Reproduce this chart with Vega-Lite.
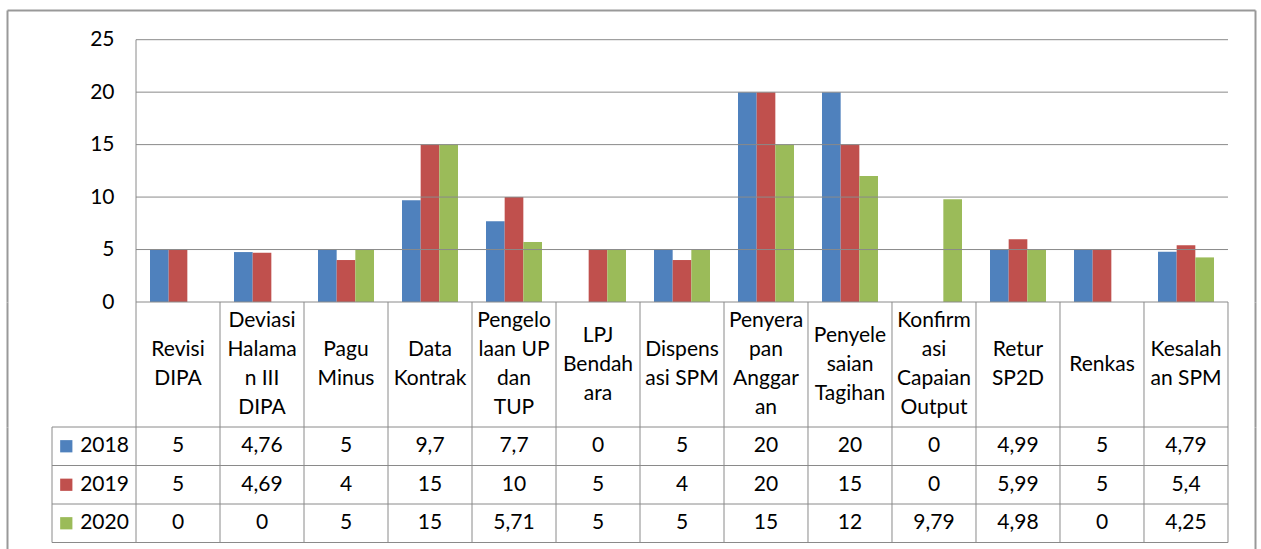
{
  "$schema": "https://vega.github.io/schema/vega-lite/v6.json",
  "padding": {"left": 7, "top": 10, "right": 6, "bottom": 0},
  "spacing": 0,
  "bounds": "flush",
  "datasets": {
    "vals": [
      {"cat": "Revisi DIPA", "year": "2018", "value": 5},
      {"cat": "Revisi DIPA", "year": "2019", "value": 5},
      {"cat": "Revisi DIPA", "year": "2020", "value": 0},
      {"cat": "Deviasi Halaman III DIPA", "year": "2018", "value": 4.76},
      {"cat": "Deviasi Halaman III DIPA", "year": "2019", "value": 4.69},
      {"cat": "Deviasi Halaman III DIPA", "year": "2020", "value": 0},
      {"cat": "Pagu Minus", "year": "2018", "value": 5},
      {"cat": "Pagu Minus", "year": "2019", "value": 4},
      {"cat": "Pagu Minus", "year": "2020", "value": 5},
      {"cat": "Data Kontrak", "year": "2018", "value": 9.7},
      {"cat": "Data Kontrak", "year": "2019", "value": 15},
      {"cat": "Data Kontrak", "year": "2020", "value": 15},
      {"cat": "Pengelolaan UP dan TUP", "year": "2018", "value": 7.7},
      {"cat": "Pengelolaan UP dan TUP", "year": "2019", "value": 10},
      {"cat": "Pengelolaan UP dan TUP", "year": "2020", "value": 5.71},
      {"cat": "LPJ Bendahara", "year": "2018", "value": 0},
      {"cat": "LPJ Bendahara", "year": "2019", "value": 5},
      {"cat": "LPJ Bendahara", "year": "2020", "value": 5},
      {"cat": "Dispensasi SPM", "year": "2018", "value": 5},
      {"cat": "Dispensasi SPM", "year": "2019", "value": 4},
      {"cat": "Dispensasi SPM", "year": "2020", "value": 5},
      {"cat": "Penyerapan Anggaran", "year": "2018", "value": 20},
      {"cat": "Penyerapan Anggaran", "year": "2019", "value": 20},
      {"cat": "Penyerapan Anggaran", "year": "2020", "value": 15},
      {"cat": "Penyelesaian Tagihan", "year": "2018", "value": 20},
      {"cat": "Penyelesaian Tagihan", "year": "2019", "value": 15},
      {"cat": "Penyelesaian Tagihan", "year": "2020", "value": 12},
      {"cat": "Konfirmasi Capaian Output", "year": "2018", "value": 0},
      {"cat": "Konfirmasi Capaian Output", "year": "2019", "value": 0},
      {"cat": "Konfirmasi Capaian Output", "year": "2020", "value": 9.79},
      {"cat": "Retur SP2D", "year": "2018", "value": 4.99},
      {"cat": "Retur SP2D", "year": "2019", "value": 5.99},
      {"cat": "Retur SP2D", "year": "2020", "value": 4.98},
      {"cat": "Renkas", "year": "2018", "value": 5},
      {"cat": "Renkas", "year": "2019", "value": 5},
      {"cat": "Renkas", "year": "2020", "value": 0},
      {"cat": "Kesalahan SPM", "year": "2018", "value": 4.79},
      {"cat": "Kesalahan SPM", "year": "2019", "value": 5.4},
      {"cat": "Kesalahan SPM", "year": "2020", "value": 4.25}
    ],
    "cats": [
      {"cat": "Revisi DIPA", "head": "Revisi|DIPA"},
      {"cat": "Deviasi Halaman III DIPA", "head": "Deviasi|Halama|n III|DIPA"},
      {"cat": "Pagu Minus", "head": "Pagu|Minus"},
      {"cat": "Data Kontrak", "head": "Data|Kontrak"},
      {"cat": "Pengelolaan UP dan TUP", "head": "Pengelo|laan UP|dan|TUP"},
      {"cat": "LPJ Bendahara", "head": "LPJ|Bendah|ara"},
      {"cat": "Dispensasi SPM", "head": "Dispens|asi SPM"},
      {"cat": "Penyerapan Anggaran", "head": "Penyera|pan|Anggar|an"},
      {"cat": "Penyelesaian Tagihan", "head": "Penyele|saian|Tagihan"},
      {"cat": "Konfirmasi Capaian Output", "head": "Konfirm|asi|Capaian|Output"},
      {"cat": "Retur SP2D", "head": "Retur|SP2D"},
      {"cat": "Renkas", "head": "Renkas"},
      {"cat": "Kesalahan SPM", "head": "Kesalah|an SPM"}
    ],
    "years": [{"year": "2018"}, {"year": "2019"}, {"year": "2020"}],
    "grid": [{"g": 0}, {"g": 5}, {"g": 10}, {"g": 15}, {"g": 20}, {"g": 25}],
    "one": [{"k": 1}]
  },
  "vconcat": [
    {
      "width": 1248,
      "height": 292,
      "layer": [
        {
          "data": {"name": "vals"},
          "mark": {"type": "bar"},
          "encoding": {
            "x": {"field": "cat", "type": "nominal",
              "scale": {"type": "band", "domain": ["legend", "Revisi DIPA", "Deviasi Halaman III DIPA", "Pagu Minus", "Data Kontrak", "Pengelolaan UP dan TUP", "LPJ Bendahara", "Dispensasi SPM", "Penyerapan Anggaran", "Penyelesaian Tagihan", "Konfirmasi Capaian Output", "Retur SP2D", "Renkas", "Kesalahan SPM"], "paddingInner": 0, "paddingOuter": 0.4286, "align": 0.625},
              "axis": {"orient": "top", "domain": true, "domainColor": "#999999", "domainWidth": 2, "ticks": false, "labels": false, "grid": false, "title": null}},
            "xOffset": {"field": "year", "type": "nominal", "scale": {"paddingInner": 0, "paddingOuter": 0.75}},
            "y": {"field": "value", "type": "quantitative",
              "scale": {"domain": [0, 27.83], "nice": false, "zero": true},
              "axis": {"orient": "left", "domain": true, "domainColor": "#999999", "domainWidth": 2, "ticks": false, "grid": false, "labels": true, "labelPadding": -107, "labelFont": "Lato", "labelFontSize": 21, "labelColor": "#000000", "values": [0, 5, 10, 15, 20, 25], "title": null}},
            "color": {"field": "year", "type": "nominal", "scale": {"domain": ["2018", "2019", "2020"], "range": ["#4F81BD", "#C0504D", "#9BBB59"]}, "legend": null}
          }
        },
        {
          "data": {"name": "grid"},
          "mark": {"type": "rule", "color": "#8a8a8a", "strokeWidth": 1},
          "encoding": {
            "x": {"datum": "Revisi DIPA", "type": "nominal", "bandPosition": 0,
              "scale": {"type": "band", "domain": ["legend", "Revisi DIPA", "Deviasi Halaman III DIPA", "Pagu Minus", "Data Kontrak", "Pengelolaan UP dan TUP", "LPJ Bendahara", "Dispensasi SPM", "Penyerapan Anggaran", "Penyelesaian Tagihan", "Konfirmasi Capaian Output", "Retur SP2D", "Renkas", "Kesalahan SPM"], "paddingInner": 0, "paddingOuter": 0.4286, "align": 0.625},
              "axis": {"orient": "top", "domain": true, "domainColor": "#999999", "domainWidth": 2, "ticks": false, "labels": false, "grid": false, "title": null}},
            "x2": {"datum": "Kesalahan SPM", "bandPosition": 1},
            "y": {"field": "g", "type": "quantitative",
              "scale": {"domain": [0, 27.83], "nice": false, "zero": true},
              "axis": {"orient": "right", "domain": true, "domainColor": "#999999", "domainWidth": 2, "ticks": false, "labels": false, "grid": false, "title": null}}
          }
        },
        {
          "data": {"name": "one"},
          "mark": {"type": "rule", "color": "#8a8a8a", "strokeWidth": 1},
          "encoding": {
            "x": {"datum": "Revisi DIPA", "type": "nominal", "bandPosition": 0,
              "scale": {"type": "band", "domain": ["legend", "Revisi DIPA", "Deviasi Halaman III DIPA", "Pagu Minus", "Data Kontrak", "Pengelolaan UP dan TUP", "LPJ Bendahara", "Dispensasi SPM", "Penyerapan Anggaran", "Penyelesaian Tagihan", "Konfirmasi Capaian Output", "Retur SP2D", "Renkas", "Kesalahan SPM"], "paddingInner": 0, "paddingOuter": 0.4286, "align": 0.625},
              "axis": {"orient": "top", "domain": true, "domainColor": "#999999", "domainWidth": 2, "ticks": false, "labels": false, "grid": false, "title": null}},
            "y": {"datum": 0, "type": "quantitative", "scale": {"domain": [0, 27.83], "nice": false, "zero": true}, "axis": null},
            "y2": {"datum": 25}
          }
        }
      ],
      "resolve": {"axis": {"y": "independent"}}
    },
    {
      "width": 1248,
      "height": 125,
      "layer": [
        {
          "data": {"name": "cats"},
          "transform": [{"filter": "length(split(datum.head, '|')) == 1"}],
          "mark": {"type": "text", "font": "Lato", "fontSize": 21, "lineBreak": "|", "lineHeight": 29, "baseline": "middle", "align": "center", "color": "#000000", "dy": 0},
          "encoding": {
            "x": {"field": "cat", "type": "nominal",
              "scale": {"type": "band", "domain": ["legend", "Revisi DIPA", "Deviasi Halaman III DIPA", "Pagu Minus", "Data Kontrak", "Pengelolaan UP dan TUP", "LPJ Bendahara", "Dispensasi SPM", "Penyerapan Anggaran", "Penyelesaian Tagihan", "Konfirmasi Capaian Output", "Retur SP2D", "Renkas", "Kesalahan SPM"], "paddingInner": 0, "paddingOuter": 0.4286, "align": 0.625},
              "axis": null},
            "y": {"datum": "h", "type": "nominal",
              "axis": {"orient": "left", "domain": true, "domainColor": "#999999", "domainWidth": 2, "ticks": false, "labels": false, "grid": false, "title": null}},
            "text": {"field": "head", "type": "nominal"}
          }
        },
        {
          "data": {"name": "cats"},
          "transform": [{"filter": "length(split(datum.head, '|')) == 2"}],
          "mark": {"type": "text", "font": "Lato", "fontSize": 21, "lineBreak": "|", "lineHeight": 29, "baseline": "middle", "align": "center", "color": "#000000", "dy": -14.5},
          "encoding": {
            "x": {"field": "cat", "type": "nominal",
              "scale": {"type": "band", "domain": ["legend", "Revisi DIPA", "Deviasi Halaman III DIPA", "Pagu Minus", "Data Kontrak", "Pengelolaan UP dan TUP", "LPJ Bendahara", "Dispensasi SPM", "Penyerapan Anggaran", "Penyelesaian Tagihan", "Konfirmasi Capaian Output", "Retur SP2D", "Renkas", "Kesalahan SPM"], "paddingInner": 0, "paddingOuter": 0.4286, "align": 0.625},
              "axis": null},
            "y": {"datum": "h", "type": "nominal", "axis": null},
            "text": {"field": "head", "type": "nominal"}
          }
        },
        {
          "data": {"name": "cats"},
          "transform": [{"filter": "length(split(datum.head, '|')) == 3"}],
          "mark": {"type": "text", "font": "Lato", "fontSize": 21, "lineBreak": "|", "lineHeight": 29, "baseline": "middle", "align": "center", "color": "#000000", "dy": -29},
          "encoding": {
            "x": {"field": "cat", "type": "nominal",
              "scale": {"type": "band", "domain": ["legend", "Revisi DIPA", "Deviasi Halaman III DIPA", "Pagu Minus", "Data Kontrak", "Pengelolaan UP dan TUP", "LPJ Bendahara", "Dispensasi SPM", "Penyerapan Anggaran", "Penyelesaian Tagihan", "Konfirmasi Capaian Output", "Retur SP2D", "Renkas", "Kesalahan SPM"], "paddingInner": 0, "paddingOuter": 0.4286, "align": 0.625},
              "axis": null},
            "y": {"datum": "h", "type": "nominal", "axis": null},
            "text": {"field": "head", "type": "nominal"}
          }
        },
        {
          "data": {"name": "cats"},
          "transform": [{"filter": "length(split(datum.head, '|')) == 4"}],
          "mark": {"type": "text", "font": "Lato", "fontSize": 21, "lineBreak": "|", "lineHeight": 29, "baseline": "middle", "align": "center", "color": "#000000", "dy": -43.5},
          "encoding": {
            "x": {"field": "cat", "type": "nominal",
              "scale": {"type": "band", "domain": ["legend", "Revisi DIPA", "Deviasi Halaman III DIPA", "Pagu Minus", "Data Kontrak", "Pengelolaan UP dan TUP", "LPJ Bendahara", "Dispensasi SPM", "Penyerapan Anggaran", "Penyelesaian Tagihan", "Konfirmasi Capaian Output", "Retur SP2D", "Renkas", "Kesalahan SPM"], "paddingInner": 0, "paddingOuter": 0.4286, "align": 0.625},
              "axis": null},
            "y": {"datum": "h", "type": "nominal", "axis": null},
            "text": {"field": "head", "type": "nominal"}
          }
        },
        {
          "data": {"name": "cats"},
          "mark": {"type": "rule", "color": "#8a8a8a", "strokeWidth": 1},
          "encoding": {
            "x": {"field": "cat", "type": "nominal", "bandPosition": 0,
              "scale": {"type": "band", "domain": ["legend", "Revisi DIPA", "Deviasi Halaman III DIPA", "Pagu Minus", "Data Kontrak", "Pengelolaan UP dan TUP", "LPJ Bendahara", "Dispensasi SPM", "Penyerapan Anggaran", "Penyelesaian Tagihan", "Konfirmasi Capaian Output", "Retur SP2D", "Renkas", "Kesalahan SPM"], "paddingInner": 0, "paddingOuter": 0.4286, "align": 0.625},
              "axis": null}
          }
        },
        {
          "data": {"name": "one"},
          "mark": {"type": "rule", "color": "#8a8a8a", "strokeWidth": 1},
          "encoding": {
            "x": {"datum": "Kesalahan SPM", "type": "nominal", "bandPosition": 1,
              "scale": {"type": "band", "domain": ["legend", "Revisi DIPA", "Deviasi Halaman III DIPA", "Pagu Minus", "Data Kontrak", "Pengelolaan UP dan TUP", "LPJ Bendahara", "Dispensasi SPM", "Penyerapan Anggaran", "Penyelesaian Tagihan", "Konfirmasi Capaian Output", "Retur SP2D", "Renkas", "Kesalahan SPM"], "paddingInner": 0, "paddingOuter": 0.4286, "align": 0.625},
              "axis": null}
          }
        },
        {
          "data": {"name": "one"},
          "mark": {"type": "text", "text": ""},
          "encoding": {
            "y": {"datum": "h", "type": "nominal",
              "axis": {"orient": "right", "domain": true, "domainColor": "#999999", "domainWidth": 2, "ticks": false, "labels": false, "grid": false, "title": null}}
          }
        }
      ],
      "resolve": {"axis": {"y": "independent"}}
    },
    {
      "width": 1248,
      "height": 122,
      "layer": [
        {
          "data": {"name": "vals"},
          "mark": {"type": "text", "font": "Lato", "fontSize": 21, "baseline": "middle", "align": "center", "color": "#000000"},
          "encoding": {
            "x": {"field": "cat", "type": "nominal",
              "scale": {"type": "band", "domain": ["legend", "Revisi DIPA", "Deviasi Halaman III DIPA", "Pagu Minus", "Data Kontrak", "Pengelolaan UP dan TUP", "LPJ Bendahara", "Dispensasi SPM", "Penyerapan Anggaran", "Penyelesaian Tagihan", "Konfirmasi Capaian Output", "Retur SP2D", "Renkas", "Kesalahan SPM"], "paddingInner": 0, "paddingOuter": 0.4286, "align": 0.625},
              "axis": null},
            "y": {"field": "year", "type": "nominal",
              "scale": {"type": "band", "domain": ["2018", "2019", "2020"], "paddingInner": 0, "paddingOuter": 0.0844, "align": 0},
              "axis": {"orient": "left", "domain": true, "domainColor": "#999999", "domainWidth": 2, "ticks": false, "labels": false, "grid": false, "title": null}},
            "text": {"field": "value", "type": "quantitative", "format": "~g"}
          }
        },
        {
          "data": {"name": "years"},
          "mark": {"type": "text", "font": "Lato", "fontSize": 21, "baseline": "middle", "align": "left", "color": "#000000"},
          "encoding": {
            "x": {"datum": "legend", "type": "nominal", "bandPosition": 0.335,
              "scale": {"type": "band", "domain": ["legend", "Revisi DIPA", "Deviasi Halaman III DIPA", "Pagu Minus", "Data Kontrak", "Pengelolaan UP dan TUP", "LPJ Bendahara", "Dispensasi SPM", "Penyerapan Anggaran", "Penyelesaian Tagihan", "Konfirmasi Capaian Output", "Retur SP2D", "Renkas", "Kesalahan SPM"], "paddingInner": 0, "paddingOuter": 0.4286, "align": 0.625},
              "axis": null},
            "y": {"field": "year", "type": "nominal",
              "scale": {"type": "band", "domain": ["2018", "2019", "2020"], "paddingInner": 0, "paddingOuter": 0.0844, "align": 0},
              "axis": null},
            "text": {"field": "year", "type": "nominal"}
          }
        },
        {
          "data": {"name": "years"},
          "mark": {"type": "square", "size": 150, "filled": true, "opacity": 1},
          "encoding": {
            "x": {"datum": "legend", "type": "nominal", "bandPosition": 0.17,
              "scale": {"type": "band", "domain": ["legend", "Revisi DIPA", "Deviasi Halaman III DIPA", "Pagu Minus", "Data Kontrak", "Pengelolaan UP dan TUP", "LPJ Bendahara", "Dispensasi SPM", "Penyerapan Anggaran", "Penyelesaian Tagihan", "Konfirmasi Capaian Output", "Retur SP2D", "Renkas", "Kesalahan SPM"], "paddingInner": 0, "paddingOuter": 0.4286, "align": 0.625},
              "axis": null},
            "y": {"field": "year", "type": "nominal",
              "scale": {"type": "band", "domain": ["2018", "2019", "2020"], "paddingInner": 0, "paddingOuter": 0.0844, "align": 0},
              "axis": null},
            "color": {"field": "year", "type": "nominal", "scale": {"domain": ["2018", "2019", "2020"], "range": ["#4F81BD", "#C0504D", "#9BBB59"]}, "legend": null}
          }
        },
        {
          "data": {"name": "years"},
          "mark": {"type": "rule", "color": "#8a8a8a", "strokeWidth": 1},
          "encoding": {
            "x": {"datum": "legend", "type": "nominal", "bandPosition": 0,
              "scale": {"type": "band", "domain": ["legend", "Revisi DIPA", "Deviasi Halaman III DIPA", "Pagu Minus", "Data Kontrak", "Pengelolaan UP dan TUP", "LPJ Bendahara", "Dispensasi SPM", "Penyerapan Anggaran", "Penyelesaian Tagihan", "Konfirmasi Capaian Output", "Retur SP2D", "Renkas", "Kesalahan SPM"], "paddingInner": 0, "paddingOuter": 0.4286, "align": 0.625},
              "axis": null},
            "x2": {"datum": "Kesalahan SPM", "bandPosition": 1},
            "y": {"field": "year", "type": "nominal", "bandPosition": 0,
              "scale": {"type": "band", "domain": ["2018", "2019", "2020"], "paddingInner": 0, "paddingOuter": 0.0844, "align": 0},
              "axis": null}
          }
        },
        {
          "data": {"name": "one"},
          "mark": {"type": "rule", "color": "#8a8a8a", "strokeWidth": 1},
          "encoding": {
            "x": {"datum": "legend", "type": "nominal", "bandPosition": 0,
              "scale": {"type": "band", "domain": ["legend", "Revisi DIPA", "Deviasi Halaman III DIPA", "Pagu Minus", "Data Kontrak", "Pengelolaan UP dan TUP", "LPJ Bendahara", "Dispensasi SPM", "Penyerapan Anggaran", "Penyelesaian Tagihan", "Konfirmasi Capaian Output", "Retur SP2D", "Renkas", "Kesalahan SPM"], "paddingInner": 0, "paddingOuter": 0.4286, "align": 0.625},
              "axis": null},
            "x2": {"datum": "Kesalahan SPM", "bandPosition": 1},
            "y": {"datum": "2020", "type": "nominal", "bandPosition": 1,
              "scale": {"type": "band", "domain": ["2018", "2019", "2020"], "paddingInner": 0, "paddingOuter": 0.0844, "align": 0},
              "axis": null}
          }
        },
        {
          "data": {"name": "cats"},
          "mark": {"type": "rule", "color": "#8a8a8a", "strokeWidth": 1},
          "encoding": {
            "x": {"field": "cat", "type": "nominal", "bandPosition": 0,
              "scale": {"type": "band", "domain": ["legend", "Revisi DIPA", "Deviasi Halaman III DIPA", "Pagu Minus", "Data Kontrak", "Pengelolaan UP dan TUP", "LPJ Bendahara", "Dispensasi SPM", "Penyerapan Anggaran", "Penyelesaian Tagihan", "Konfirmasi Capaian Output", "Retur SP2D", "Renkas", "Kesalahan SPM"], "paddingInner": 0, "paddingOuter": 0.4286, "align": 0.625},
              "axis": null},
            "y": {"datum": "2018", "type": "nominal", "bandPosition": 0,
              "scale": {"type": "band", "domain": ["2018", "2019", "2020"], "paddingInner": 0, "paddingOuter": 0.0844, "align": 0},
              "axis": null},
            "y2": {"datum": "2020", "bandPosition": 1}
          }
        },
        {
          "data": {"name": "one"},
          "mark": {"type": "rule", "color": "#8a8a8a", "strokeWidth": 1},
          "encoding": {
            "x": {"datum": "legend", "type": "nominal", "bandPosition": 0,
              "scale": {"type": "band", "domain": ["legend", "Revisi DIPA", "Deviasi Halaman III DIPA", "Pagu Minus", "Data Kontrak", "Pengelolaan UP dan TUP", "LPJ Bendahara", "Dispensasi SPM", "Penyerapan Anggaran", "Penyelesaian Tagihan", "Konfirmasi Capaian Output", "Retur SP2D", "Renkas", "Kesalahan SPM"], "paddingInner": 0, "paddingOuter": 0.4286, "align": 0.625},
              "axis": null},
            "y": {"datum": "2018", "type": "nominal", "bandPosition": 0,
              "scale": {"type": "band", "domain": ["2018", "2019", "2020"], "paddingInner": 0, "paddingOuter": 0.0844, "align": 0},
              "axis": null},
            "y2": {"datum": "2020", "bandPosition": 1}
          }
        },
        {
          "data": {"name": "one"},
          "mark": {"type": "rule", "color": "#8a8a8a", "strokeWidth": 1},
          "encoding": {
            "x": {"datum": "Kesalahan SPM", "type": "nominal", "bandPosition": 1,
              "scale": {"type": "band", "domain": ["legend", "Revisi DIPA", "Deviasi Halaman III DIPA", "Pagu Minus", "Data Kontrak", "Pengelolaan UP dan TUP", "LPJ Bendahara", "Dispensasi SPM", "Penyerapan Anggaran", "Penyelesaian Tagihan", "Konfirmasi Capaian Output", "Retur SP2D", "Renkas", "Kesalahan SPM"], "paddingInner": 0, "paddingOuter": 0.4286, "align": 0.625},
              "axis": null},
            "y": {"datum": "2018", "type": "nominal", "bandPosition": 0,
              "scale": {"type": "band", "domain": ["2018", "2019", "2020"], "paddingInner": 0, "paddingOuter": 0.0844, "align": 0},
              "axis": null},
            "y2": {"datum": "2020", "bandPosition": 1}
          }
        },
        {
          "data": {"name": "years"},
          "mark": {"type": "text", "text": ""},
          "encoding": {
            "y": {"field": "year", "type": "nominal",
              "scale": {"type": "band", "domain": ["2018", "2019", "2020"], "paddingInner": 0, "paddingOuter": 0.0844, "align": 0},
              "axis": {"orient": "right", "domain": true, "domainColor": "#999999", "domainWidth": 2, "ticks": false, "labels": false, "grid": false, "title": null}}
          }
        }
      ],
      "resolve": {"axis": {"y": "independent"}}
    }
  ],
  "config": {
    "view": {"stroke": null},
    "locale": {"number": {"decimal": ",", "thousands": ".", "grouping": [3], "currency": ["", ""]}}
  }
}
